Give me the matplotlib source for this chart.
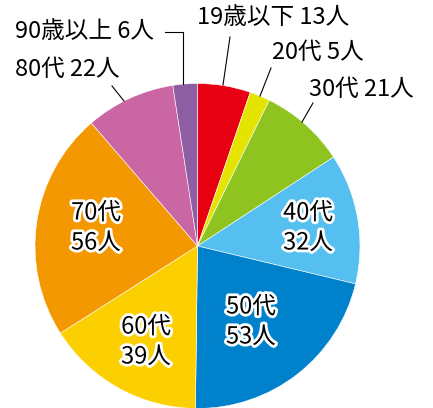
import matplotlib
matplotlib.use("Agg")
import matplotlib.pyplot as plt
import matplotlib.patheffects as pe

plt.rcParams['font.family'] = ['Noto Sans CJK JP', 'DejaVu Sans']

# data
groups = ['19歳以下', '20代', '30代', '40代', '50代', '60代', '70代', '80代', '90歳以上']
counts = [13, 5, 21, 32, 53, 39, 56, 22, 6]
colors = ['#e60012', '#e5e300', '#8fc31f', '#55c0ef', '#0081cc',
          '#fcd000', '#f39800', '#c966a3', '#8e5ea2']

# layout in pixel coords (y down)
W, H = 433, 408
cx, cy, R = 197.5, 246, 162.5
inside = {'40代': (308, 228), '50代': (251, 322), '60代': (146, 342), '70代': (96, 228)}
outside = {'19歳以下': (197, 17, 'left'), '20代': (272, 52, 'left'), '30代': (309, 89, 'left'),
           '90歳以上': (15, 32, 'left'), '80代': (15, 69, 'left')}
leaders = {'19歳以下': [(230, 37), (223, 85)],
           '20代': [(271, 68), (260, 96)],
           '30代': [(313, 103), (302, 122)],
           '90歳以上': [(165, 32), (183, 32), (183, 84)],
           '80代': [(112, 86), (124, 101)]}

fig = plt.figure(figsize=(W / 100, H / 100), dpi=100)
ax = fig.add_axes([0, 0, 1, 1])

# y axis is inverted, so start at -90 and go counterclockwise in data terms
ax.pie(counts, colors=colors, startangle=-90, counterclock=True,
       center=(cx, cy), radius=R,
       wedgeprops=dict(edgecolor='white', linewidth=0.4), frame=False)
ax.set_xlim(0, W)
ax.set_ylim(H, 0)
ax.set_aspect('auto')
ax.axis('off')

halo = [pe.withStroke(linewidth=4, foreground='white')]
for g, n in zip(groups, counts):
    if g in inside:
        x, y = inside[g]
        ax.text(x, y - 15, g, ha='center', va='center', fontsize=17, color='black',
                path_effects=halo)
        ax.text(x, y + 15, f'{n}人', ha='center', va='center', fontsize=17, color='black',
                path_effects=halo)
    else:
        x, y, ha = outside[g]
        ax.text(x, y, f'{g} {n}人', ha=ha, va='center', fontsize=17, color='black')
        pts = leaders[g]
        ax.plot([p[0] for p in pts], [p[1] for p in pts], color='black', lw=0.8)

fig.savefig('out.png', dpi=100)
